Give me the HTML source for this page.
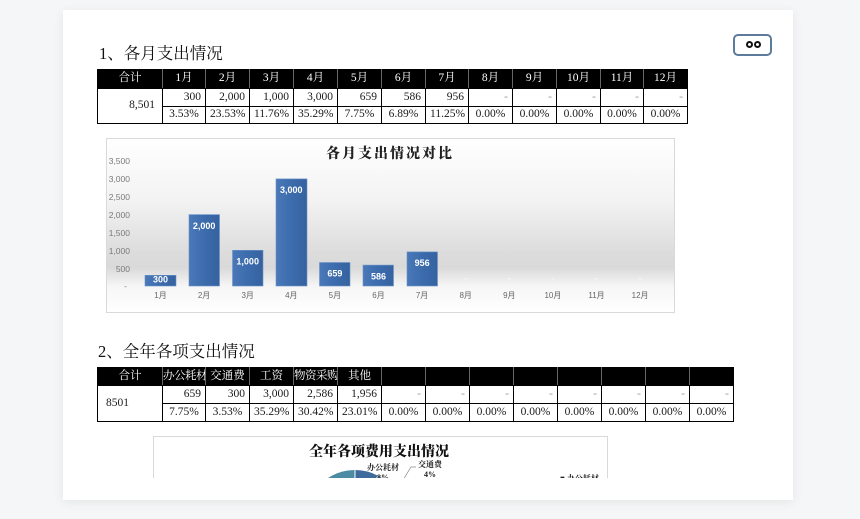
<!DOCTYPE html>
<html>
<head>
<meta charset="utf-8">
<style>
  html,body{margin:0;padding:0;}
  body{width:860px;height:519px;position:relative;overflow:hidden;background:#f5f6f7;
       font-family:"Liberation Serif","Noto Serif CJK SC",serif;}
  .card{position:absolute;left:63px;top:10px;width:730px;height:490px;background:#fff;
        box-shadow:0 2px 10px rgba(0,0,0,0.07);}
  .h{position:absolute;font-family:"Liberation Serif","Noto Serif CJK SC",serif;font-size:16.5px;color:#111;white-space:nowrap;line-height:1;}
  table{position:absolute;border-collapse:collapse;table-layout:fixed;
        font-family:"Liberation Serif","Noto Serif CJK SC",serif;font-size:11.5px;color:#1a1a1a;}
  td{border:1px solid #000;padding:0 4px;line-height:1;white-space:nowrap;overflow:hidden;}
  tr.hd td{background:#000;color:#fff;text-align:center;border-left-color:#666;border-right-color:#666;border-top-color:#000;border-bottom-color:#000;}
  tr.hd td:first-child{border-left-color:#000;}
  tr.hd td:last-child{border-right-color:#000;}
  td.r{text-align:right;}
  td.c{text-align:center;}
  td.d{text-align:right;color:#999;}
  td.tot{text-align:right;padding-right:7px;}
  .btn{position:absolute;left:733px;top:34px;width:35px;height:18px;border:2px solid #5d7b9b;border-radius:5px;background:#fff;}
  .eye{position:absolute;top:5px;width:7px;height:7px;border-radius:50%;background:#111;}
  .eye:after{content:"";position:absolute;left:2px;top:2px;width:3px;height:3px;border-radius:50%;background:#fff;}
</style>
</head>
<body>
<div class="card"></div>

<div class="btn"><div class="eye" style="left:11px"></div><div class="eye" style="left:19px"></div></div>

<div class="h" style="left:99px;top:46px;">1、各月支出情况</div>

<table style="left:97px;top:69px;width:590px;">
  <colgroup>
    <col style="width:65px"><col style="width:43px"><col style="width:44px"><col style="width:44px"><col style="width:44px"><col style="width:44px"><col style="width:44px"><col style="width:43px"><col style="width:44px"><col style="width:44px"><col style="width:44px"><col style="width:43px"><col style="width:44px">
  </colgroup>
  <tr class="hd" style="height:19px"><td>合计</td><td>1月</td><td>2月</td><td>3月</td><td>4月</td><td>5月</td><td>6月</td><td>7月</td><td>8月</td><td>9月</td><td>10月</td><td>11月</td><td>12月</td></tr>
  <tr style="height:18px"><td class="tot" rowspan="2">8,501</td><td class="r">300</td><td class="r">2,000</td><td class="r">1,000</td><td class="r">3,000</td><td class="r">659</td><td class="r">586</td><td class="r">956</td><td class="d">-</td><td class="d">-</td><td class="d">-</td><td class="d">-</td><td class="d">-</td></tr>
  <tr style="height:17px"><td class="c">3.53%</td><td class="c">23.53%</td><td class="c">11.76%</td><td class="c">35.29%</td><td class="c">7.75%</td><td class="c">6.89%</td><td class="c">11.25%</td><td class="c">0.00%</td><td class="c">0.00%</td><td class="c">0.00%</td><td class="c">0.00%</td><td class="c">0.00%</td></tr>
</table>

<svg style="position:absolute;left:106px;top:138px;" width="569" height="175" viewBox="106 138 569 175">
  <defs>
    <linearGradient id="bg" x1="0" y1="0" x2="0" y2="1">
      <stop offset="0" stop-color="#ffffff"/>
      <stop offset="0.35" stop-color="#f3f3f3"/>
      <stop offset="0.66" stop-color="#dcdcdc"/>
      <stop offset="0.74" stop-color="#d9d9d9"/>
      <stop offset="0.85" stop-color="#f6f6f6"/>
      <stop offset="1" stop-color="#ffffff"/>
    </linearGradient>
    <linearGradient id="bar" x1="0" y1="0" x2="1" y2="0">
      <stop offset="0" stop-color="#4a78b8"/>
      <stop offset="0.5" stop-color="#3c6cad"/>
      <stop offset="1" stop-color="#36629f"/>
    </linearGradient>
  </defs>
  <rect x="106.5" y="138.5" width="568" height="174" fill="url(#bg)" stroke="#d9d9d9"/>
  <text x="390" y="158" text-anchor="middle" font-family="'Liberation Serif','Noto Serif CJK SC',serif" font-weight="900" font-size="14" letter-spacing="2" fill="#222">各月支出情况对比</text>
  <g font-family="'Liberation Sans',sans-serif" font-size="8.5" fill="#7a7a7a" text-anchor="end">
    <text x="130" y="164">3,500</text>
    <text x="130" y="182">3,000</text>
    <text x="130" y="200">2,500</text>
    <text x="130" y="218">2,000</text>
    <text x="130" y="236">1,500</text>
    <text x="130" y="254">1,000</text>
    <text x="130" y="272">500</text>
    <text x="127" y="289">-</text>
  </g>
  <g fill="url(#bar)" stroke="#6a94c9" stroke-width="0.6">
    <rect x="145" y="275.3" width="31" height="10.7"/>
    <rect x="189" y="214.6" width="30.5" height="71.4"/>
    <rect x="232.5" y="250.3" width="30.5" height="35.7"/>
    <rect x="276" y="178.9" width="31" height="107.1"/>
    <rect x="319.5" y="262.5" width="30.5" height="23.5"/>
    <rect x="363" y="265.1" width="30.5" height="20.9"/>
    <rect x="407" y="251.9" width="30.5" height="34.1"/>
  </g>
  <g font-family="'Liberation Sans',sans-serif" font-size="9" font-weight="bold" fill="#fff" text-anchor="middle">
    <text x="160.5" y="282.5">300</text>
    <text x="204.1" y="229">2,000</text>
    <text x="247.7" y="264.5">1,000</text>
    <text x="291.3" y="193">3,000</text>
    <text x="334.9" y="276.5">659</text>
    <text x="378.5" y="279.5">586</text>
    <text x="422.1" y="266">956</text>
  </g>
  <g fill="#f4f4f4">
    <rect x="464.5" y="278" width="3" height="1.2"/>
    <rect x="508" y="278" width="3" height="1.2"/>
    <rect x="551.5" y="278" width="3" height="1.2"/>
    <rect x="595" y="278" width="3" height="1.2"/>
    <rect x="638.5" y="278" width="3" height="1.2"/>
  </g>
  <g font-family="'Liberation Sans','Noto Sans CJK SC',sans-serif" font-size="8" fill="#666" text-anchor="middle">
    <text x="160.5" y="298">1月</text>
    <text x="204.1" y="298">2月</text>
    <text x="247.7" y="298">3月</text>
    <text x="291.3" y="298">4月</text>
    <text x="334.9" y="298">5月</text>
    <text x="378.5" y="298">6月</text>
    <text x="422.1" y="298">7月</text>
    <text x="465.7" y="298">8月</text>
    <text x="509.3" y="298">9月</text>
    <text x="552.9" y="298">10月</text>
    <text x="596.5" y="298">11月</text>
    <text x="640.1" y="298">12月</text>
  </g>
</svg>

<div class="h" style="left:98px;top:344px;">2、全年各项支出情况</div>

<table style="left:97px;top:367px;width:636px;">
  <colgroup>
    <col style="width:65px"><col style="width:43px"><col style="width:44px"><col style="width:44px"><col style="width:44px"><col style="width:44px"><col style="width:44px"><col style="width:44px"><col style="width:44px"><col style="width:44px"><col style="width:44px"><col style="width:44px"><col style="width:44px"><col style="width:44px">
  </colgroup>
  <tr class="hd" style="height:18px"><td>合计</td><td style="padding:0;letter-spacing:-0.5px">办公耗材</td><td>交通费</td><td>工资</td><td style="padding:0;letter-spacing:-0.5px">物资采购</td><td>其他</td><td></td><td></td><td></td><td></td><td></td><td></td><td></td><td></td></tr>
  <tr style="height:18px"><td class="tot" rowspan="2" style="text-align:left;padding-left:8px">8501</td><td class="r">659</td><td class="r">300</td><td class="r">3,000</td><td class="r">2,586</td><td class="r">1,956</td><td class="d">-</td><td class="d">-</td><td class="d">-</td><td class="d">-</td><td class="d">-</td><td class="d">-</td><td class="d">-</td><td class="d">-</td></tr>
  <tr style="height:18px"><td class="c">7.75%</td><td class="c">3.53%</td><td class="c">35.29%</td><td class="c">30.42%</td><td class="c">23.01%</td><td class="c">0.00%</td><td class="c">0.00%</td><td class="c">0.00%</td><td class="c">0.00%</td><td class="c">0.00%</td><td class="c">0.00%</td><td class="c">0.00%</td><td class="c">0.00%</td></tr>
</table>

<svg style="position:absolute;left:0;top:0;" width="860" height="519" viewBox="0 0 860 519">
  <defs>
    <clipPath id="cl"><rect x="63" y="10" width="730" height="468"/></clipPath>
  </defs>
  <g clip-path="url(#cl)">
    <rect x="153.5" y="436.5" width="454" height="80" fill="#fff" stroke="#d9d9d9"/>
    <text x="379" y="456" text-anchor="middle" font-family="'Liberation Serif','Noto Serif CJK SC',serif" font-weight="900" font-size="14" fill="#111">全年各项费用支出情况</text>
    <path d="M355,519 L355,470 A49,49 0 0 1 378,475.7 Z" fill="#3e6a9c"/>
    <path d="M355,519 L378,475.7 A49,49 0 0 1 387,482 Z" fill="#4f7fb0"/>
    <path d="M355,519 L306.3,513 A49,49 0 0 1 355,470 Z" fill="#4b8ba3"/>
    <line x1="355" y1="470" x2="355" y2="480" stroke="#fff" stroke-width="1"/>
    <line x1="355" y1="519" x2="378" y2="475.7" stroke="#fff" stroke-width="1"/>
    <g font-family="'Liberation Serif','Noto Serif CJK SC',serif" font-weight="bold" font-size="8" fill="#222">
      <text x="367" y="470">办公耗材</text>
      <text x="377" y="480">8%</text>
      <text x="418" y="467">交通费</text>
      <text x="424" y="477">4%</text>
      <text x="560" y="481">■ 办公耗材</text>
    </g>
    <polyline points="403,480 411,467 416,467" fill="none" stroke="#888" stroke-width="0.7"/>
  </g>
</svg>
</body>
</html>
